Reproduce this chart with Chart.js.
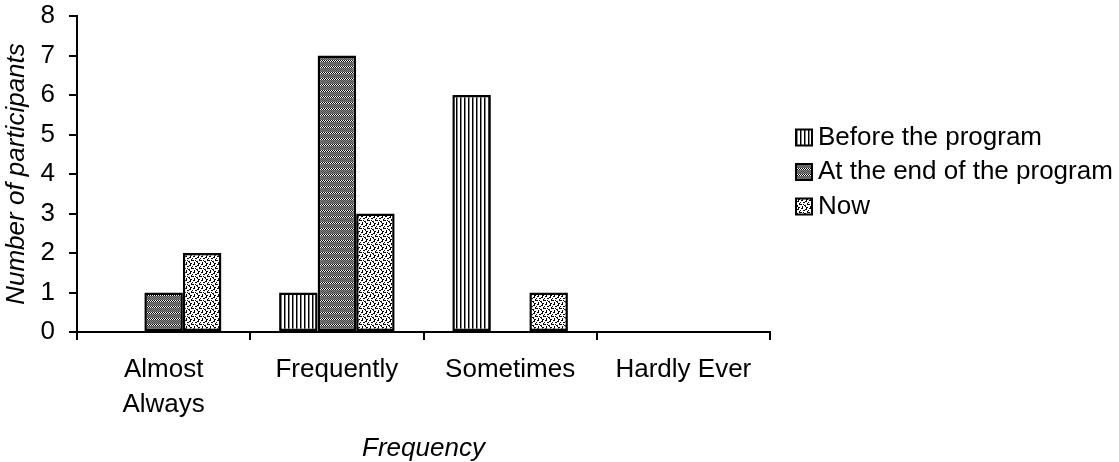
<!DOCTYPE html>
<html>
<head>
<meta charset="utf-8">
<script src="https://cdn.jsdelivr.net/npm/chart.js@4"></script>
<style>
  html, body { margin: 0; padding: 0; background: #fff; }
  #wrap { width: 1119px; height: 462px; }
</style>
</head>
<body>
<div id="wrap"><canvas id="c" width="1119" height="462"></canvas></div>
<script>
// Frequency categories and participant counts per period
const categories = [['Almost', 'Always'], 'Frequently', 'Sometimes', 'Hardly Ever'];
const seriesNames = ['Before the program', 'At the end of the program', 'Now'];
const beforeProgram = [0, 1, 6, 0];
const endOfProgram = [1, 7, 0, 0];
const nowValues = [2, 3, 1, 0];
const yTicks = [0, 1, 2, 3, 4, 5, 6, 7, 8];

const FONT = "'Liberation Sans', Arial, Helvetica, sans-serif";

// Monochrome fill patterns
function makePattern(w, h, paint) {
  const cv = document.createElement('canvas');
  cv.width = w; cv.height = h;
  const g = cv.getContext('2d');
  g.fillStyle = '#fff';
  g.fillRect(0, 0, w, h);
  paint(g);
  return document.getElementById('c').getContext('2d').createPattern(cv, 'repeat');
}

// vertical hatching
const vLines = makePattern(4, 4, g => {
  g.fillStyle = '#000';
  g.fillRect(0, 0, 1, 4);
  g.fillStyle = '#888';
  g.fillRect(1, 0, 1, 4);
});

// banded fine checker (dark grey)
const bands = makePattern(2, 6, g => {
  g.fillStyle = '#000';
  g.fillRect(0, 0, 1, 1);
  g.fillRect(1, 1, 1, 1);
  g.fillStyle = '#7a7a7a';
  g.fillRect(0, 2, 2, 4);
  g.fillStyle = '#555';
  g.fillRect(0, 2, 1, 1); g.fillRect(1, 3, 1, 1);
  g.fillRect(0, 4, 1, 1); g.fillRect(1, 5, 1, 1);
});

// speckled dots
const dots = makePattern(8, 8, g => {
  g.fillStyle = '#000';
  const pts = [[1,0,2,1],[5,1,2,1],[3,2,2,1],[7,3,1,2],[0,4,2,1],[4,5,2,1],[2,6,1,2],[6,7,2,1],
               [0,2,1,1],[6,0,1,1],[3,4,1,1],[5,6,1,1]];
  pts.forEach(p => g.fillRect(p[0], p[1], p[2], p[3]));
});

const fills = [vLines, bands, dots];
const values = [beforeProgram, endOfProgram, nowValues];

// Legend drawn to the right of the plot area
const sideLegend = {
  id: 'sideLegend',
  afterDraw(chart) {
    const ctx = chart.ctx;
    const area = chart.chartArea;
    const gap = 34.5;
    const mid = (area.top + area.bottom) / 2 - 2;
    const x0 = area.right + 26;
    ctx.save();
    ctx.font = '26px ' + FONT;
    ctx.textBaseline = 'middle';
    ctx.textAlign = 'left';
    chart.data.datasets.forEach((ds, i) => {
      const cy = mid + (i - 1) * gap;
      ctx.fillStyle = ds.backgroundColor;
      ctx.fillRect(x0, cy - 8, 16, 16);
      ctx.lineWidth = 2;
      ctx.strokeStyle = '#000';
      ctx.strokeRect(x0, cy - 8, 16, 16);
      ctx.fillStyle = '#000';
      ctx.fillText(ds.label, x0 + 22, cy);
    });
    ctx.restore();
  }
};

new Chart(document.getElementById('c'), {
  type: 'bar',
  data: {
    labels: categories,
    datasets: seriesNames.map((name, i) => ({
      label: name,
      data: values[i],
      backgroundColor: fills[i],
      borderColor: '#000',
      borderWidth: 2.5,
      borderSkipped: false,
      categoryPercentage: 0.667,
      barPercentage: 1.0
    }))
  },
  options: {
    responsive: false,
    animation: false,
    layout: { padding: { top: 0, right: 349, left: 0, bottom: 0 } },
    plugins: {
      legend: { display: false },
      tooltip: { enabled: false }
    },
    scales: {
      x: {
        grid: { drawOnChartArea: false, color: '#000', lineWidth: 2, tickLength: 8 },
        border: { display: true, color: '#000', width: 2 },
        ticks: {
          color: '#000',
          padding: 12,
          maxRotation: 0,
          autoSkip: false,
          font: { family: FONT, size: 26, lineHeight: 1.35 }
        },
        title: {
          display: true,
          text: 'Frequency',
          color: '#000',
          padding: { top: 0, bottom: 0 },
          font: { family: FONT, size: 26, style: 'italic', lineHeight: 1 }
        },
        afterFit: s => { s.height = 130; }
      },
      y: {
        min: 0,
        max: 8,
        afterBuildTicks: s => { s.ticks = yTicks.map(v => ({ value: v })); },
        grid: { drawOnChartArea: false, color: '#000', lineWidth: 2, tickLength: 8 },
        border: { display: true, color: '#000', width: 2 },
        ticks: {
          color: '#000',
          padding: 14,
          font: { family: FONT, size: 26 }
        },
        title: {
          display: true,
          text: 'Number of participants',
          color: '#000',
          padding: { top: 4, bottom: 0 },
          font: { family: FONT, size: 26, style: 'italic', lineHeight: 1 }
        },
        afterFit: s => { s.width = 77; s.paddingTop = 16; s.paddingBottom = 16; }
      }
    }
  },
  plugins: [sideLegend]
});
</script>
</body>
</html>
